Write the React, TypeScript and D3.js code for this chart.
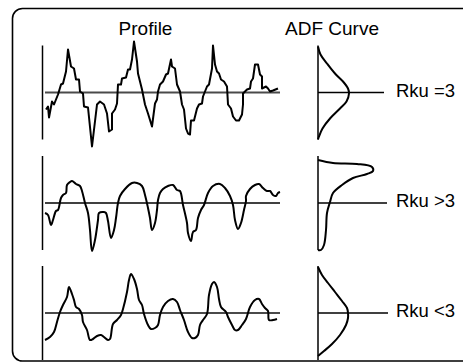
import * as d3 from "d3";

// profile traces: [position, height]
const profileNormal: [number, number][] = [
  [1, -17], [3, -14], [4, -25], [7, -9], [9, -12], [13, -2], [16, 8], [18, 9], [21, 21], [23, 43],
  [26, 26], [29, 24], [31, 13], [34, 13], [35, 1], [38, -1], [39, -14], [43, -15], [47, -54], [52, -12],
  [55, -9], [59, -12], [62, -21], [64, -39], [67, -37], [67, -21], [70, -17], [72, -11], [73, 8], [76, 8],
  [77, 14], [81, 15], [83, 23], [85, 23], [87, 33], [89, 51], [92, 31], [93, 19], [97, 3], [100, -12],
  [103, -21], [107, -34], [110, -11], [112, -7], [113, 1], [115, 8], [118, 11], [121, 18], [123, 19], [126, 33],
  [127, 26], [130, 24], [132, 8], [135, 1], [137, -12], [139, -17], [141, -36], [143, -41], [145, -42], [146, -28],
  [149, -28], [152, -16], [154, -12], [157, -11], [158, -4], [162, 6], [164, 8], [167, 24], [168, 47], [170, 28],
  [172, 21], [174, 19], [176, 13], [179, 11], [182, 6], [183, -12], [186, -16], [188, -24], [191, -28], [194, -28],
  [197, -22], [198, -12], [198, -1], [202, 3], [205, 4], [206, 11], [208, 14], [210, 28], [213, 28], [215, 18],
  [217, 16], [217, 4], [221, 6], [223, 4], [225, 1], [228, 2], [233, 4],
];

const profileHigh: [number, number][] = [
  [0, -10], [3, -12], [6, -22], [8, -17], [11, -8], [13, -7], [16, 5], [18, 8], [21, 10], [22, 18],
  [25, 21], [27, 22], [31, 19], [35, 17], [37, 12], [40, 0], [43, -10], [45, -27], [47, -48], [50, -37],
  [53, -17], [54, -10], [59, -9], [61, -10], [63, -18], [66, -35], [69, -27], [71, -15], [73, 0], [75, 7],
  [80, 14], [87, 20], [92, 20], [97, 17], [100, 8], [103, -5], [105, -15], [107, -27], [110, -20], [112, -7],
  [113, 3], [115, 10], [118, 14], [123, 17], [128, 18], [132, 13], [135, 12], [138, -2], [142, -20], [143, -30],
  [146, -38], [148, -29], [151, -27], [153, -15], [156, -7], [159, -2], [163, 10], [168, 17], [175, 19], [180, 15],
  [185, 7], [188, -2], [190, -17], [193, -26], [196, -20], [199, -7], [201, 2], [201, 7], [205, 14], [210, 18],
  [214, 19], [218, 15], [222, 12], [225, 12], [228, 8], [231, 7], [233, 10], [235, 11],
];

const profileLow: [number, number][] = [
  [0, -27], [5, -24], [9, -19], [12, -9], [15, 1], [18, 8], [22, 16], [24, 26], [27, 19], [29, 13],
  [31, 6], [34, 4], [37, -2], [38, -9], [42, -17], [45, -27], [48, -26], [52, -23], [56, -22], [59, -24],
  [63, -27], [65, -26], [68, -11], [72, -7], [76, -2], [78, 4], [82, 21], [84, 33], [86, 39], [89, 34],
  [92, 24], [94, 13], [97, 8], [99, -1], [103, -12], [106, -16], [110, -15], [113, -12], [115, -2], [118, 6],
  [123, 12], [128, 14], [132, 11], [135, 3], [139, -7], [143, -19], [147, -25], [150, -25], [153, -22], [155, -12],
  [158, -7], [162, -1], [164, 18], [167, 29], [169, 31], [172, 26], [174, 14], [176, 6], [181, 1], [183, -4],
  [187, -12], [190, -17], [193, -17], [197, -12], [201, -6], [205, 6], [210, 13], [214, 14], [217, 9], [220, 5],
  [223, 2], [224, -7], [228, -7], [232, -6],
];

// amplitude density curves: [density, height]
const adfNormal: [number, number][] = [
  [0, 46], [2.5, 38], [9, 29], [17, 19], [25, 11], [30, 4], [31, -1], [28.5, -9], [22, -16], [12, -26],
  [4.5, -36], [1, -44], [0, -47],
];
const adfHigh: [number, number][] = [
  [0, 43], [15, 40], [39, 39], [54, 36], [55, 32], [49, 29], [35, 25], [24, 18], [15, 10], [12, 1],
  [9, -10], [8, -27], [6, -42], [3, -47], [0, -47],
];
const adfLow: [number, number][] = [
  [0, 46], [4, 38], [10, 30], [17, 21], [24, 12], [29, 5], [30, 0], [30, -5], [28, -12], [22, -22],
  [14, -31], [6, -38], [0, -43],
];

const labels = ["Rku =3", "Rku >3", "Rku <3"];
const titles = ["Profile", "ADF Curve"];
const adfLineEnds = [66, 69, 70];

const W = 463;
const H = 363;
const baselines = [92.5, 203, 313];
const font = "'Liberation Sans', Arial, sans-serif";

const panels = [
  { profile: profileNormal, adf: adfNormal, curve: d3.curveLinear, baseColor: "#4a4a4a", baseWidth: 2 },
  { profile: profileHigh, adf: adfHigh, curve: d3.curveCatmullRom.alpha(0.5), baseColor: "#000", baseWidth: 1.3 },
  { profile: profileLow, adf: adfLow, curve: d3.curveCatmullRom.alpha(0.5), baseColor: "#4a4a4a", baseWidth: 2 },
];

export default function App() {
  const px = d3.scaleLinear().domain([0, 235]).range([45, 280]);
  const ax = d3.scaleLinear().domain([0, 70]).range([318, 388]);
  const axisX = 42.5;

  return (
    <div style={{ position: "fixed", left: 0, top: 0, width: W, height: H, background: "#fff" }}>
      <svg width={W} height={H} style={{ display: "block" }}>
        <rect x={12.5} y={8.5} width={500} height={352.5} rx={10} ry={10} fill="none" stroke="#000" strokeWidth={1.6} />
        <text x={145.5} y={35} textAnchor="middle" fontFamily={font} fontSize={19}>{titles[0]}</text>
        <text x={332} y={35} textAnchor="middle" fontFamily={font} fontSize={19}>{titles[1]}</text>
        {panels.map((p, i) => {
          const b = baselines[i];
          const y = d3.scaleLinear().domain([-47, 47]).range([b + 47, b - 47]);
          const line = d3.line<[number, number]>().x((d) => px(d[0])).y((d) => y(d[1])).curve(p.curve);
          const adfLine = d3
            .line<[number, number]>()
            .x((d) => ax(d[0]))
            .y((d) => y(d[1]))
            .curve(d3.curveCatmullRom.alpha(0.5));
          return (
            <g key={i}>
              <line x1={axisX} x2={axisX} y1={y(47)} y2={y(-47)} stroke="#000" strokeWidth={1.5} />
              <line x1={px(0)} x2={px(235)} y1={y(0)} y2={y(0)} stroke={p.baseColor} strokeWidth={p.baseWidth} />
              <path d={line(p.profile) || ""} fill="none" stroke="#000" strokeWidth={2} strokeLinejoin="round" />
              <line x1={ax(0)} x2={ax(0)} y1={y(47)} y2={y(-47)} stroke="#000" strokeWidth={1.5} />
              <line x1={ax(0)} x2={ax(adfLineEnds[i])} y1={y(0)} y2={y(0)} stroke="#000" strokeWidth={1.3} />
              <path d={adfLine(p.adf) || ""} fill="none" stroke="#000" strokeWidth={2} />
              <text x={396} y={y(0) + 4} fontFamily={font} fontSize={18.5}>{labels[i]}</text>
            </g>
          );
        })}
      </svg>
    </div>
  );
}
